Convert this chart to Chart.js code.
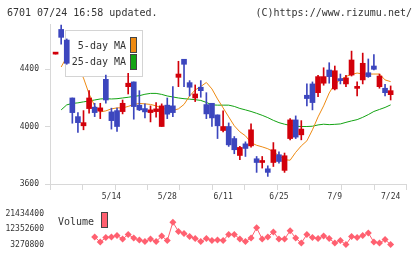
<!DOCTYPE html>
<html>
<head>
<meta charset="utf-8">
<script src="https://cdn.jsdelivr.net/npm/chart.js@4.4.1/dist/chart.umd.min.js"></script>
<style>
  html, body { margin: 0; padding: 0; background: #fff; }
  #wrap { position: relative; width: 420px; height: 259px; overflow: hidden;
          font-family: 'DejaVu Sans Mono', monospace; color: #333; }
  .hdr { position: absolute; top: 7px; font-size: 10px; line-height: 12px; white-space: pre; }
  #main { position: absolute; left: 0; top: 0; }
  #vol  { position: absolute; left: 0; top: 200px; }
</style>
</head>
<body>
<div id="wrap">
  <canvas id="main" width="420" height="205"></canvas>
  <canvas id="vol" width="420" height="59"></canvas>
  <div class="hdr" style="left:7px">6701 07/24 16:58 updated.</div>
  <div class="hdr" style="right:8px">(C)https://www.rizumu.net/</div>
</div>
<script>
/* ─── data ─── */
const opens = [4506,4678,4604,4200,4070,4006,4126,4136,4108,4330,
  4103,4112,4105,4279,4312,4150,4126,4098,4105,4001,
  4150,4145,4344,4470,4307,4200,4275,4154,4163,4082,
  3973,4001,3917,3799,3880,3866,3776,3750,3706,3750,
  3804,3695,3917,4047,3943,4219,4298,4237,4303,4395,
  4263,4335,4298,4360,4267,4326,4376,4423,4279,4268,
  4223];
const highs = [4517,4708,4612,4200,4098,4112,4251,4163,4163,4360,
  4129,4129,4186,4372,4312,4251,4159,4145,4168,4159,
  4200,4279,4456,4470,4321,4291,4321,4237,4163,4082,
  4110,4026,3931,3862,3894,4019,3792,3792,3727,3889,
  3825,3816,4056,4075,4042,4298,4312,4358,4411,4446,
  4423,4367,4358,4527,4312,4513,4472,4502,4367,4296,
  4284];
const lows = [4506,4576,4435,4024,3959,3978,4094,4070,4056,4163,
  3983,3966,4089,4228,4052,4112,4061,4033,4066,4001,
  4056,4070,4279,4279,4214,4175,4205,4056,4001,3917,
  3964,3862,3811,3769,3792,3857,3681,3711,3653,3722,
  3746,3681,3908,3917,3908,4145,4117,4209,4289,4303,
  4256,4298,4279,4353,4214,4298,4344,4395,4268,4214,
  4186];
const closes = [4517,4623,4442,4098,4028,4028,4200,4098,4131,4186,
  4042,4001,4163,4303,4140,4117,4103,4117,4124,4145,
  4087,4098,4367,4435,4275,4228,4251,4089,4061,4006,
  4001,3873,3839,3855,3848,3978,3750,3757,3681,3839,
  3757,3797,4047,3927,3983,4196,4168,4349,4349,4349,
  4390,4321,4340,4465,4274,4442,4349,4400,4353,4237,
  4251];
const ma5 = [null,4416,4486,4465,4409,4339,4228,4145,4103,4110,
  4124,4131,4131,4141,4155,4162,4159,4155,4145,4131,
  4117,4113,4124,4155,4214,4256,4280,4308,4263,4193,
  4131,4068,4006,3964,3936,3888,3870,3859,3846,3825,
  3797,3769,3766,3821,3866,3901,3978,4068,4145,4235,
  4298,4326,4350,4364,4374,4367,4367,4367,4367,4326,
  4314];
const ma25 = [null,4117,4152,4162,4166,4173,4179,4186,4193,4195,
  4193,4195,4200,4205,4211,4216,4226,4232,4232,4225,
  4214,4207,4200,4195,4192,4188,4183,4169,4152,4150,
  4150,4150,4141,4127,4117,4106,4093,4079,4063,4044,
  4028,4017,4009,4003,4001,4001,4003,4012,4017,4014,
  4016,4019,4030,4040,4049,4065,4084,4106,4120,4134,
  4152];
const volumes = [null,null,null,null,null,null,null,7811700,4769300,7493800,
  7811700,8719900,6585700,9310200,7176000,5995300,5087200,6585700,5087200,8402000,
  5677500,16575600,11126600,9900500,8084200,6903500,5087200,6903500,5677500,5995300,
  5677500,9310200,9310200,6585700,5087200,7176000,13260800,6585700,7811700,10808700,
  6585700,6585700,11444400,7176000,4179000,9310200,7493800,6903500,8402000,6903500,
  4179000,5677500,3270800,8084200,7493800,8719900,10218400,4769300,4179000,6267800,
  3270800];
const tickIdx = [10, 20, 30, 40, 50, 60];
const tickLabels = ['5/14', '5/28', '6/11', '6/25', '7/9', '7/24'];
const priceTicks = [3600, 4000, 4400];
const volTicks = [3270800, 12352600, 21434400];

(function () {
  'use strict';

  const C = {
    up: '#d2000a',
    down: '#3c46be',
    ma5: '#ee8a12',
    ma25: '#13a313',
    vol: '#ff6070',
    axis: '#d8d8d8',
    text: '#333',
  };
  const FONT = "'DejaVu Sans Mono', monospace";
  const X_MIN = -1, X_MAX = 62.75;

  Chart.defaults.font.family = FONT;
  Chart.defaults.color = C.text;
  Chart.defaults.animation = false;

  const idx = closes.map((_, i) => i);
  const bodies = idx.map(i => ({ x: i, y: [opens[i], closes[i]] }));
  const wicks = idx.map(i => ({ x: i, y: [lows[i], highs[i]] }));
  const candleCol = idx.map(i => (closes[i] >= opens[i] ? C.up : C.down));

  /* ── legend box for the MAs: above lines, below candles ── */
  const maLegend = {
    id: 'maLegend',
    afterDatasetDraw(chart, args) {
      if (args.index !== 2) return;
      const ctx = chart.ctx;
      ctx.save();
      ctx.fillStyle = '#fff';
      ctx.fillRect(66, 31, 77, 46);
      ctx.strokeStyle = '#d4d4d4';
      ctx.lineWidth = 1;
      ctx.strokeRect(65.5, 30.5, 77, 46);
      ctx.font = '10px ' + FONT;
      ctx.fillStyle = '#333';
      ctx.textAlign = 'right';
      ctx.textBaseline = 'middle';
      ctx.fillText('5-day MA', 126, 46);
      ctx.fillText('25-day MA', 126, 62);
      ctx.strokeStyle = '#444';
      ctx.fillStyle = C.ma5;
      ctx.fillRect(131, 37, 6, 15);
      ctx.strokeRect(130.5, 37.5, 6, 15);
      ctx.fillStyle = C.ma25;
      ctx.fillRect(131, 54, 6, 15);
      ctx.strokeRect(130.5, 54.5, 6, 15);
      ctx.restore();
    },
  };

  /* ── 12 evenly spaced tick marks under the x axis ── */
  const xTickMarks = {
    id: 'xTickMarks',
    afterDraw(chart) {
      const a = chart.chartArea, ctx = chart.ctx;
      ctx.save();
      ctx.strokeStyle = C.axis;
      ctx.lineWidth = 1;
      ctx.beginPath();
      for (let k = 0; k <= 11; k++) {
        const x = Math.round(a.left + k * (a.right - a.left) / 11) + 0.5;
        ctx.moveTo(x, a.bottom);
        ctx.lineTo(x, a.bottom + 6);
      }
      ctx.stroke();
      ctx.restore();
    },
  };

  new Chart(document.getElementById('main'), {
    type: 'bar',
    data: {
      datasets: [
        { label: 'body', data: bodies, backgroundColor: candleCol, borderWidth: 0,
          barThickness: 5, minBarLength: 2, grouped: false },
        { label: 'wick', data: wicks, backgroundColor: candleCol, borderWidth: 0,
          barThickness: 1, grouped: false },
        { type: 'line', label: '5-day MA', data: idx.map(i => ({ x: i, y: ma5[i] })),
          borderColor: C.ma5, borderWidth: 1, pointRadius: 0, tension: 0 },
        { type: 'line', label: '25-day MA', data: idx.map(i => ({ x: i, y: ma25[i] })),
          borderColor: C.ma25, borderWidth: 1, pointRadius: 0, tension: 0 },
      ],
    },
    options: {
      responsive: false,
      devicePixelRatio: 1,
      layout: { padding: { top: 24, right: 14, bottom: 0, left: 0 } },
      plugins: { legend: { display: false }, tooltip: { enabled: false } },
      scales: {
        x: {
          type: 'linear', min: X_MIN, max: X_MAX, offset: false,
          afterFit: s => { s.height = 21; },
          afterBuildTicks: s => { s.ticks = tickIdx.map(v => ({ value: v })); },
          grid: { display: false, tickLength: 0 },
          border: { display: true, color: C.axis },
          ticks: { autoSkip: false, maxRotation: 0, padding: 8, font: { size: 8 },
            callback: v => tickLabels[tickIdx.indexOf(v)] },
        },
        y: {
          min: 3600, max: 4716,
          afterFit: s => { s.width = 50; },
          afterBuildTicks: s => { s.ticks = priceTicks.map(v => ({ value: v })); },
          grid: { drawOnChartArea: false, color: C.axis, tickLength: 5 },
          border: { display: true, color: C.axis },
          ticks: { padding: 6, font: { size: 8 }, callback: v => String(v) },
        },
      },
    },
    plugins: [maLegend, xTickMarks],
  });

  /* ── volume panel ── */
  const volLegend = {
    id: 'volLegend',
    afterDraw(chart) {
      const ctx = chart.ctx;
      ctx.save();
      ctx.font = '10px ' + FONT;
      ctx.fillStyle = '#333';
      ctx.textAlign = 'left';
      ctx.textBaseline = 'middle';
      ctx.fillText('Volume', 58, 22);
      ctx.fillStyle = C.vol;
      ctx.fillRect(102, 13, 5, 15);
      ctx.strokeStyle = '#444';
      ctx.lineWidth = 1;
      ctx.strokeRect(101.5, 12.5, 6, 15);
      ctx.restore();
    },
  };

  new Chart(document.getElementById('vol'), {
    type: 'line',
    data: {
      datasets: [{
        data: idx.map(i => ({ x: i, y: volumes[i] })),
        borderColor: C.vol, backgroundColor: C.vol, borderWidth: 1,
        pointStyle: 'rectRot', pointRadius: 3.5, pointBorderWidth: 0, tension: 0,
        clip: false,
      }],
    },
    options: {
      responsive: false,
      devicePixelRatio: 1,
      layout: { padding: { top: 5, right: 14, bottom: 5, left: 0 } },
      plugins: { legend: { display: false }, tooltip: { enabled: false } },
      scales: {
        x: { type: 'linear', min: X_MIN, max: X_MAX, display: false },
        y: {
          min: 1136600, max: 23387000,
          afterFit: s => { s.width = 50; },
          afterBuildTicks: s => { s.ticks = volTicks.map(v => ({ value: v })); },
          grid: { display: false, tickLength: 0 },
          border: { display: false },
          ticks: { padding: 6, font: { size: 8 }, callback: v => String(v) },
        },
      },
    },
    plugins: [volLegend],
  });
})();
</script>
</body>
</html>
